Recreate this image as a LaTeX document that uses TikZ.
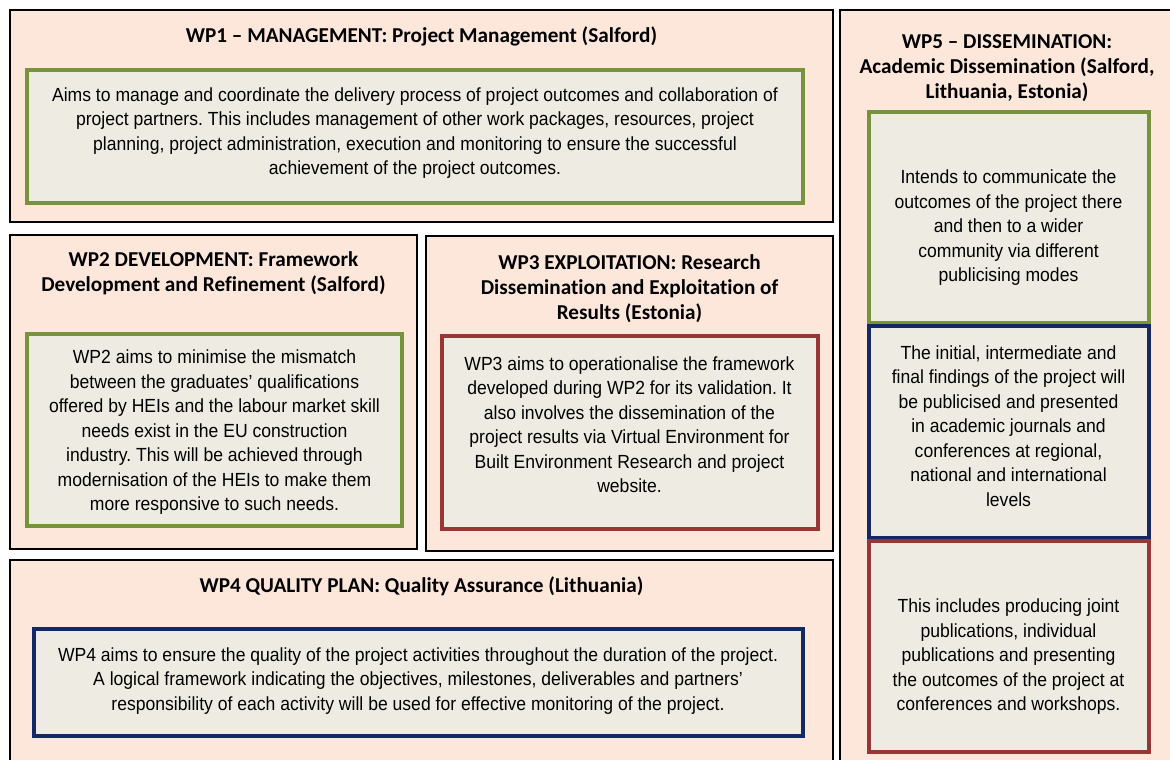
\documentclass[tikz,border=0pt]{standalone}
\usepackage{fontspec}
\setmainfont{Liberation Sans}[FakeStretch=0.925]
\newfontfamily\titlefont{Carlito}[Ligatures={TeX,NoCommon}]
\frenchspacing
\definecolor{peach}{RGB}{252,231,218}
\definecolor{innerfill}{RGB}{238,236,226}
\definecolor{wpgreen}{RGB}{119,147,60}
\definecolor{wpblue}{RGB}{20,40,100}
\definecolor{wpred}{RGB}{150,55,53}
\tikzset{
  outerbox/.style={draw=black, fill=peach, line width=1.6pt},
  innerbox/.style={fill=innerfill, line width=3.5pt},
  titletext/.style={font=\titlefont\bfseries\fontsize{21.2}{25}\selectfont, align=center, inner sep=0pt},
  bodytext/.style={font=\frenchspacing\fontsize{19}{24.5}\selectfont, align=center, inner sep=0pt},
}
\begin{document}
\begin{tikzpicture}[x=1pt,y=-1pt]
\path[use as bounding box] (0,0) rectangle (1170,760);
\fill[white] (0,0) rectangle (1170,760);
\begin{scope}
\clip (0,0) rectangle (1170,760);
% outer boxes
\draw[outerbox] (10,10) rectangle (833,222);
\draw[outerbox] (10,235) rectangle (417,549);
\draw[outerbox] (426,236) rectangle (833,551);
\draw[outerbox] (10,560) rectangle (833,770);
\draw[outerbox] (840,10) rectangle (1180,770);
% inner boxes
\draw[innerbox, draw=wpgreen] (27,70) rectangle (803,203);
\draw[innerbox, draw=wpgreen] (27,334) rectangle (402,526);
\draw[innerbox, draw=wpred] (442,336) rectangle (818,529);
\draw[innerbox, draw=wpblue] (34,629) rectangle (803,736);
\draw[innerbox, draw=wpgreen] (869,112) rectangle (1149,323);
\draw[innerbox, draw=wpblue] (869,326) rectangle (1149,538);
\draw[innerbox, draw=wpred] (869,541) rectangle (1149,752);
\end{scope}
% titles
\node[titletext] (t1) at (421.5,36) {WP1 – MANAGEMENT: Project Management (Salford)};
\node[titletext] (t2) at (213.5,273.5) {WP2 DEVELOPMENT: Framework\\Development and Refinement (Salford)};
\node[titletext] (t3) at (629.5,288.5) {WP3 EXPLOITATION: Research\\Dissemination and Exploitation of\\Results (Estonia)};
\node[titletext] (t4) at (421.5,586) {WP4 QUALITY PLAN: Quality Assurance (Lithuania)};
\node[titletext] (t5) at (1007,68.5) {WP5 – DISSEMINATION:\\Academic Dissemination (Salford,\\Lithuania, Estonia)};
% bodies
\node[bodytext] (b1) at (415,133) {Aims to manage and coordinate the delivery process of project outcomes and collaboration of\\project partners. This includes management of other work packages, resources, project\\planning, project administration, execution and monitoring to ensure the successful\\achievement of the project outcomes.};
\node[bodytext] (b2) at (214.5,432.5) {WP2 aims to minimise the mismatch\\between the graduates’ qualifications\\offered by HEIs and the labour market skill\\needs exist in the EU construction\\industry. This will be achieved through\\modernisation of the HEIs to make them\\more responsive to such needs.};
\node[bodytext] (b3) at (629.5,424.5) {WP3 aims to operationalise the framework\\developed during WP2 for its validation. It\\also involves the dissemination of the\\project results via Virtual Environment for\\Built Environment Research and project\\website.};
\node[bodytext] (b4) at (418,681) {WP4 aims to ensure the quality of the project activities throughout the duration of the project.\\A logical framework indicating the objectives, milestones, deliverables and partners’\\responsibility of each activity will be used for effective monitoring of the project.};
\node[bodytext] (b5a) at (1008.5,228) {Intends to communicate the\\outcomes of the project there\\and then to a wider\\community via different\\publicising modes};
\node[bodytext] (b5b) at (1008.5,426) {The initial, intermediate and\\final findings of the project will\\be publicised and presented\\in academic journals and\\conferences at regional,\\national and international\\levels};
\node[bodytext] (b5c) at (1008.5,657) {This includes producing joint\\publications, individual\\publications and presenting\\the outcomes of the project at\\conferences and workshops.};
\end{tikzpicture}
\end{document}
